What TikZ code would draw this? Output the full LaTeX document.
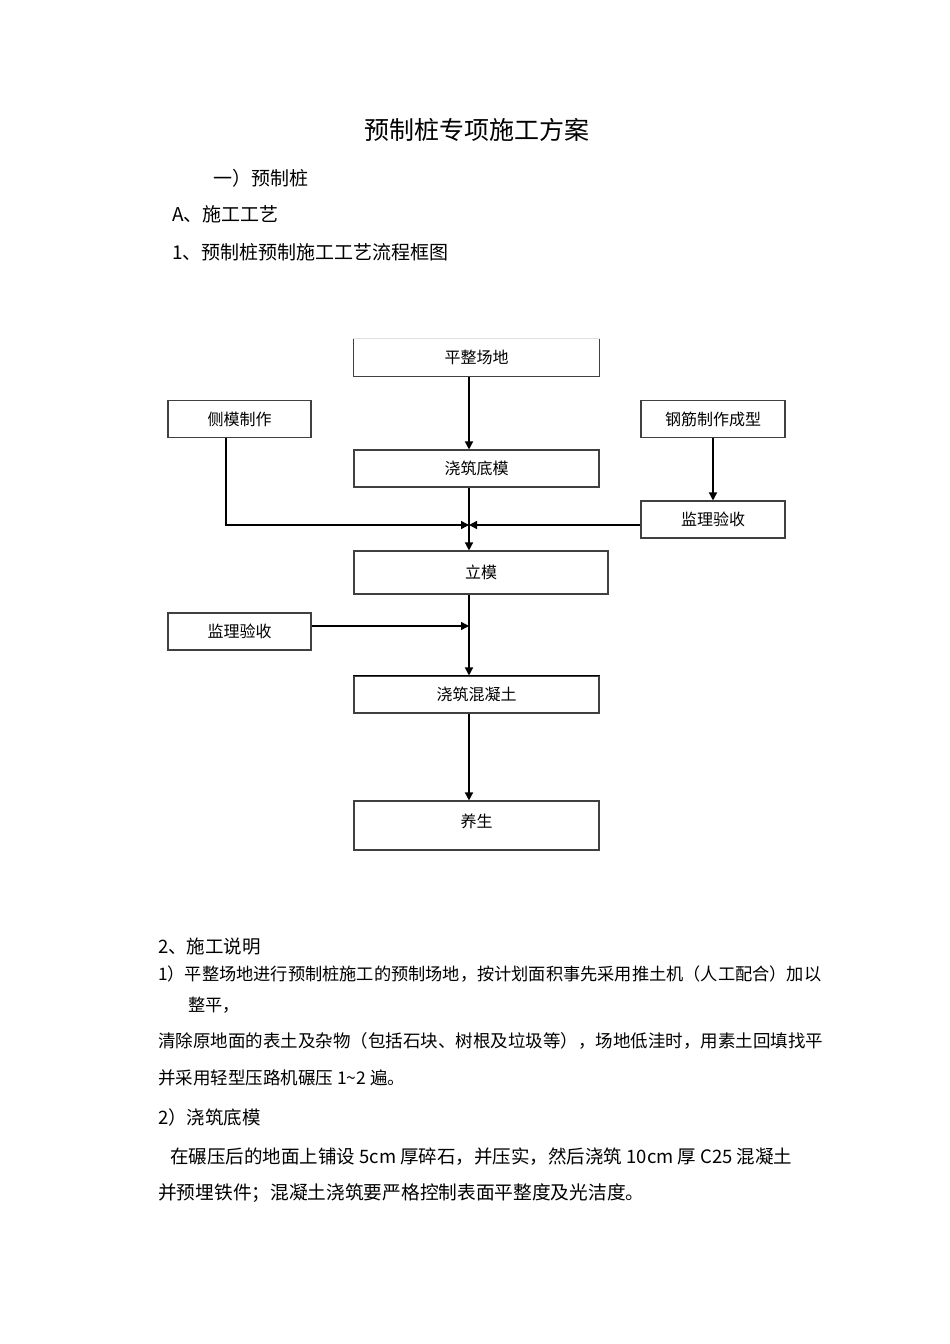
\documentclass[tikz,border=0pt]{standalone}
\usepackage{fontspec}
\setmainfont{Noto Sans CJK SC}
\usetikzlibrary{arrows.meta,positioning}

\tikzset{
  box/.style={draw=black!75,line width=1.1pt,inner sep=0pt,font=\fontsize{16}{18}\selectfont},
  wide/.style={box,minimum width=245pt,minimum height=37pt},
  narrow/.style={box,minimum width=143pt,minimum height=37pt},
  arr/.style={->,line width=1.4pt},
  txt/.style={anchor=west,inner sep=0pt,font=\fontsize{#1}{#1}\selectfont},
}

\begin{document}
\begin{tikzpicture}[x=1pt,y=-1pt,>={Triangle[length=8pt,width=8pt]}]
\useasboundingbox[fill=white](0,0)rectangle(950,1344);
% heading
\node[inner sep=0pt,font=\fontsize{25}{25}\selectfont](title)at(477,130){预制桩专项施工方案};
\node[txt=19](h1)at(213,178){一）预制桩};
\node[txt=19](h2)at(172,214){A、施工工艺};
\node[txt=19](h3)at(172,252){1、预制桩预制施工工艺流程框图};
% flow chart
\coordinate(trunk)at(469,0);
\node[wide,draw=none](level)at(476.5,357.5){平整场地};
\draw[black!75,line width=1.1pt](level.north west)--(level.south west)--(level.south east)--(level.north east);
\draw[black!12,line width=1pt](level.north west)--(level.north east);
\node[narrow](side)at(239.5,419){侧模制作};
\node[narrow,minimum width=144pt](rebar)at(713,419){钢筋制作成型};
\node[wide](base)at(476.5,468.5){浇筑底模};
\node[narrow,minimum width=144pt](checkR)at(713,519.5){监理验收};
\node[wide,minimum width=254pt,minimum height=43pt](erect)at(481,572.5){立模};
\node[narrow](checkL)at(239.5,631.5){监理验收};
\node[wide](pour)at(476.5,694.5){浇筑混凝土};
\draw[line width=1.8pt](pour.north west)--(pour.north east);
\node[wide,minimum height=49pt,text depth=10pt](cure)at(476.5,825.5){养生};
\coordinate(join)at(469,525);
\coordinate(joinL)at(469,626);
\draw[arr](level.south-|trunk)--(base.north-|trunk);
\draw[arr](base.south-|trunk)--(erect.north-|trunk);
\draw[arr](side.south-|226,0)|-(join);
\draw[arr](checkR.west|-join)--(join);
\draw[arr](rebar.south)--(checkR.north);
\draw[arr](erect.south-|trunk)--(pour.north-|trunk);
\draw[arr](checkL.east|-joinL)--(joinL);
\draw[arr](pour.south-|trunk)--(cure.north-|trunk);
% notes
\node[txt=18.5](s2)at(158,947){2、施工说明};
\node[txt=17.2](p1a)at(158,974){1）平整场地进行预制桩施工的预制场地，按计划面积事先采用推土机（人工配合）加以};
\node[txt=17.2](p1b)at(188,1005){整平，};
\node[txt=17.5](p1c)at(158,1041){清除原地面的表土及杂物（包括石块、树根及垃圾等），场地低洼时，用素土回填找平};
\node[txt=17.5](p1d)at(158,1078){并采用轻型压路机碾压 1\textasciitilde2 遍。};
\node[txt=18.5](s3)at(158,1117){2）浇筑底模};
\node[txt=18.5](p2a)at(170,1157){在碾压后的地面上铺设 5cm 厚碎石，并压实，然后浇筑 10cm 厚 C25 混凝土};
\node[txt=18.7](p2b)at(158,1193){并预埋铁件；混凝土浇筑要严格控制表面平整度及光洁度。};
\end{tikzpicture}
\end{document}
